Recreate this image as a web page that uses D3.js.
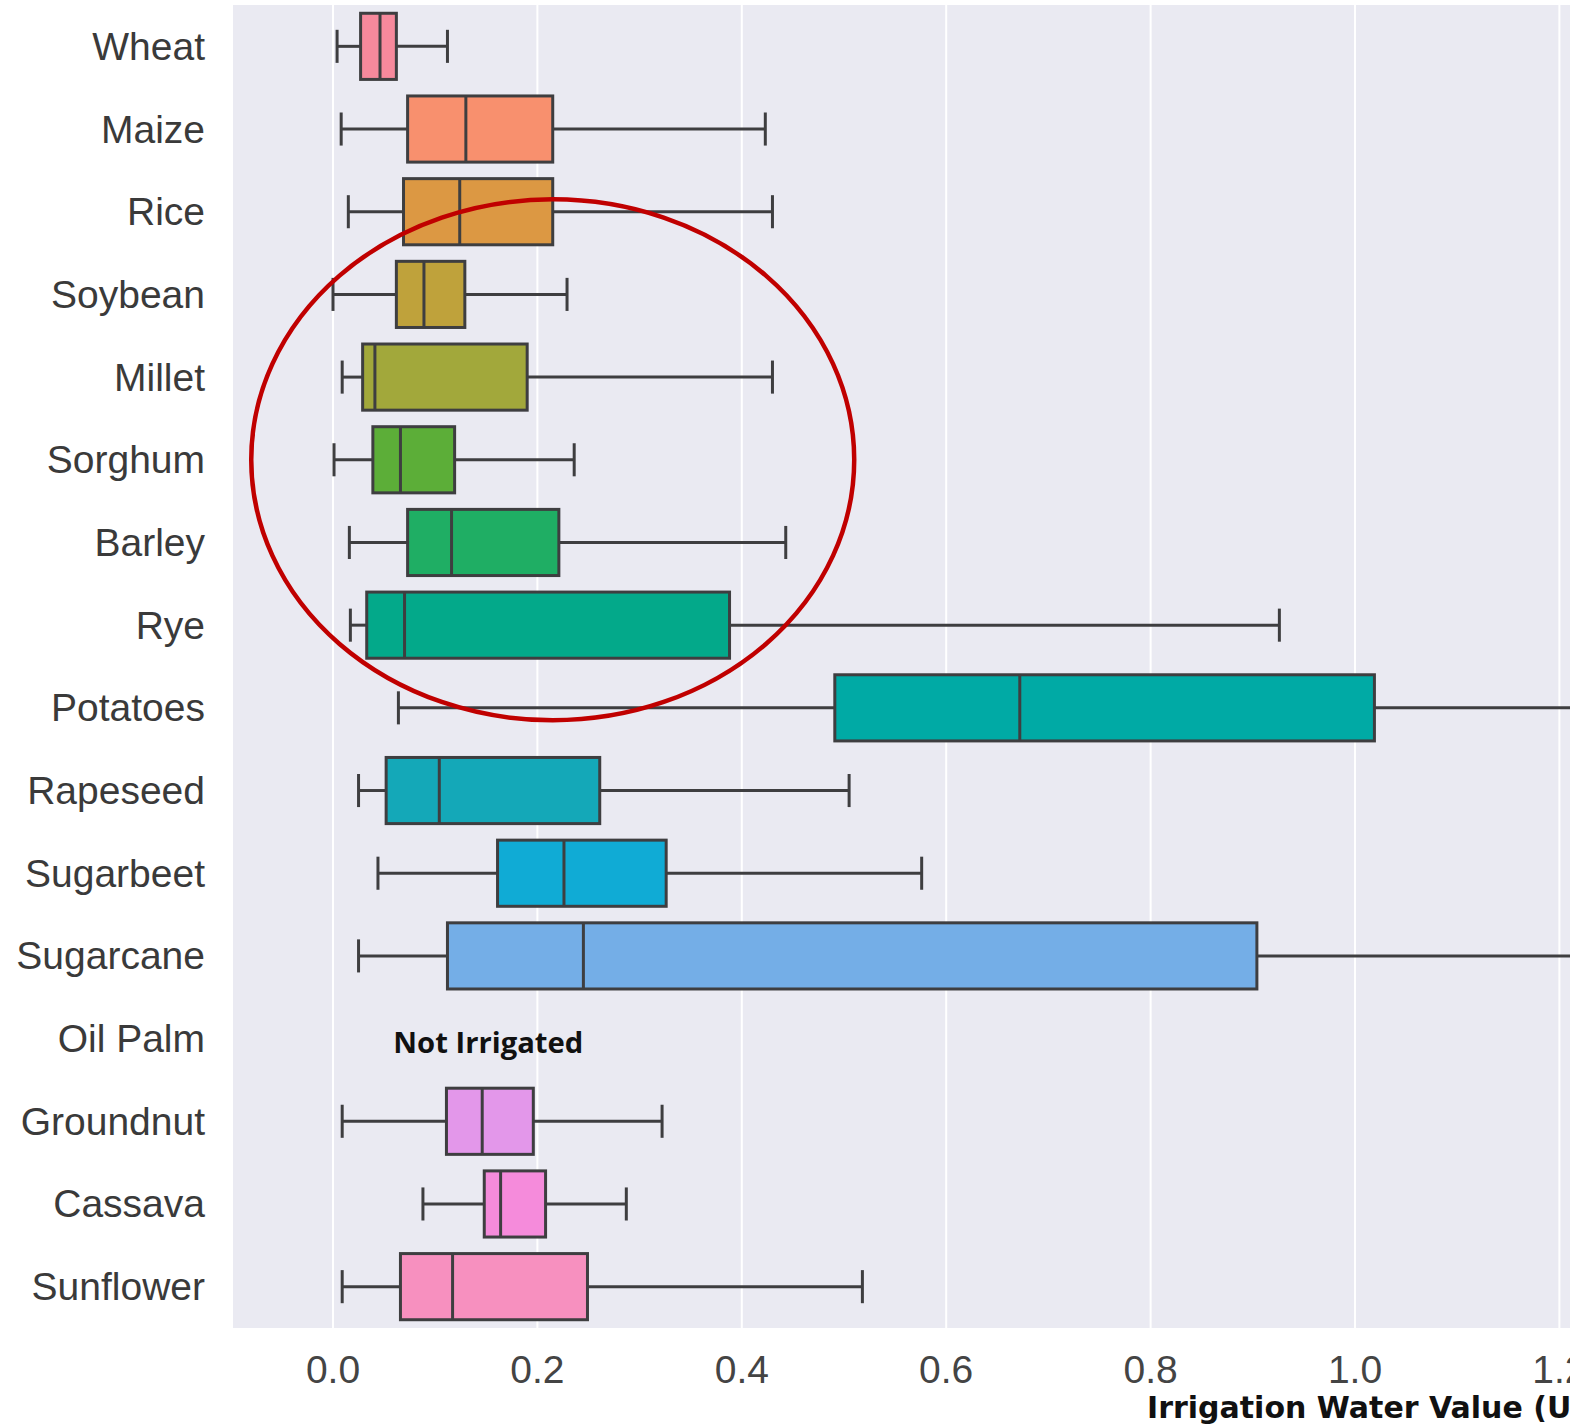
<!DOCTYPE html>
<html>
<head>
<meta charset="utf-8">
<script src="https://cdn.jsdelivr.net/npm/d3@7"></script>
<style>
  html, body { margin: 0; padding: 0; background: #ffffff; overflow: hidden; }
  svg { display: block; }
</style>
</head>
<body>
<script>
// ---- data ----
const categories = ["Wheat","Maize","Rice","Soybean","Millet","Sorghum","Barley","Rye",
  "Potatoes","Rapeseed","Sugarbeet","Sugarcane","Oil Palm","Groundnut","Cassava","Sunflower"];
const whiskerLow  = [0.004,0.008,0.015,0.000,0.009,0.001,0.016,0.017,0.064,0.025,0.044,0.025,null,0.009,0.088,0.009];
const q1          = [0.027,0.073,0.069,0.062,0.029,0.039,0.073,0.033,0.491,0.052,0.161,0.112,null,0.111,0.148,0.066];
const medians     = [0.046,0.130,0.124,0.089,0.041,0.066,0.116,0.070,0.672,0.104,0.226,0.245,null,0.146,0.164,0.117];
const q3          = [0.062,0.215,0.215,0.129,0.190,0.119,0.221,0.388,1.019,0.261,0.326,0.904,null,0.196,0.208,0.249];
const whiskerHigh = [0.112,0.423,0.430,0.229,0.430,0.236,0.443,0.926,1.450,0.505,0.576,1.700,null,0.322,0.287,0.518];
const boxColors   = ["#F6899C","#F8906E","#DC9843","#BFA23B","#A2A83B","#5CAE38","#1FAE64","#03A98A",
  "#00AAA5","#14A8B8","#10ABD5","#74AEE7","#cccccc","#E397EA","#F58BDB","#F790BF"];
const xTicks = [0.0,0.2,0.4,0.6,0.8,1.0,1.2];
const xTickLabels = ["0.0","0.2","0.4","0.6","0.8","1.0","1.2"];
const xLabel = "Irrigation Water Value (USD/m³)";
const noteText = "Not Irrigated";
const noteCategory = "Oil Palm";
const noteValue = 0.059;
// highlight ellipse (in data terms): centre value, centre category, radii
const ellipseCenterValue = 0.215;
const ellipseCenterCategory = "Sorghum";
const ellipseRadiusValue = 0.295;
const ellipseRadiusBands = 3.15;

// ---- layout ----
const W = 1570, H = 1427;
const plotLeft = 233, plotRight = 1620, plotTop = 5, plotBottom = 1328;

const svg = d3.select("body").append("svg").attr("width", W).attr("height", H);

const x = d3.scaleLinear().domain([0, 1]).range([333, 1355]);
const y = d3.scaleBand().domain(categories).range([plotTop, plotBottom]).paddingInner(0).paddingOuter(0);
const bw = y.bandwidth();

svg.append("defs").append("clipPath").attr("id", "plotclip")
  .append("rect").attr("x", plotLeft).attr("y", plotTop)
  .attr("width", plotRight - plotLeft).attr("height", plotBottom - plotTop);

// background
svg.append("rect").attr("x", plotLeft).attr("y", plotTop)
  .attr("width", plotRight - plotLeft).attr("height", plotBottom - plotTop)
  .attr("fill", "#EAEAF2");

// gridlines
svg.append("g").attr("clip-path", "url(#plotclip)")
  .selectAll("line").data(xTicks).join("line")
  .attr("x1", d => x(d)).attr("x2", d => x(d))
  .attr("y1", plotTop).attr("y2", plotBottom)
  .attr("stroke", "#ffffff").attr("stroke-width", 2);

// boxes
const rows = categories.map((c, i) => ({
  c, lo: whiskerLow[i], q1: q1[i], med: medians[i], q3: q3[i], hi: whiskerHigh[i], color: boxColors[i]
})).filter(d => d.med !== null);

const lineColor = "#3e3e40";
const g = svg.append("g").attr("clip-path", "url(#plotclip)");
const boxH = bw * 0.8;
const capH = boxH * 0.5;

const row = g.selectAll("g.row").data(rows).join("g").attr("class", "row")
  .attr("transform", d => `translate(0,${y(d.c) + bw / 2})`);

// whiskers
row.append("line").attr("x1", d => x(d.lo)).attr("x2", d => x(d.q1))
  .attr("y1", 0).attr("y2", 0).attr("stroke", lineColor).attr("stroke-width", 3);
row.append("line").attr("x1", d => x(d.q3)).attr("x2", d => x(d.hi))
  .attr("y1", 0).attr("y2", 0).attr("stroke", lineColor).attr("stroke-width", 3);
// caps
row.append("line").attr("x1", d => x(d.lo)).attr("x2", d => x(d.lo))
  .attr("y1", -capH / 2).attr("y2", capH / 2).attr("stroke", lineColor).attr("stroke-width", 3);
row.append("line").attr("x1", d => x(d.hi)).attr("x2", d => x(d.hi))
  .attr("y1", -capH / 2).attr("y2", capH / 2).attr("stroke", lineColor).attr("stroke-width", 3);
// box
row.append("rect").attr("x", d => x(d.q1)).attr("width", d => x(d.q3) - x(d.q1))
  .attr("y", -boxH / 2).attr("height", boxH)
  .attr("fill", d => d.color).attr("stroke", lineColor).attr("stroke-width", 3);
// median
row.append("line").attr("x1", d => x(d.med)).attr("x2", d => x(d.med))
  .attr("y1", -boxH / 2).attr("y2", boxH / 2).attr("stroke", lineColor).attr("stroke-width", 3);

// category labels
svg.append("g").selectAll("text").data(categories).join("text")
  .attr("x", 205).attr("y", d => y(d) + bw / 2)
  .attr("text-anchor", "end").attr("dominant-baseline", "central")
  .attr("font-family", "'Liberation Sans', Arial, sans-serif")
  .attr("font-size", 39).attr("fill", "#3a3a3a")
  .text(d => d);

// x tick labels
svg.append("g").selectAll("text").data(xTicks).join("text")
  .attr("x", d => x(d)).attr("y", 1383)
  .attr("text-anchor", "middle")
  .attr("font-family", "'Liberation Sans', Arial, sans-serif")
  .attr("font-size", 39).attr("fill", "#444444")
  .text((d, i) => xTickLabels[i]);

// x axis label
svg.append("text").attr("x", 1147).attr("y", 1418)
  .attr("font-family", "'DejaVu Sans', sans-serif")
  .attr("font-weight", "bold").attr("font-size", 30).attr("fill", "#111111")
  .text(xLabel);

// not irrigated note
svg.append("text").attr("x", x(noteValue)).attr("y", y(noteCategory) + bw / 2 + 14)
  .attr("font-family", "'Open Sans', sans-serif").attr("font-weight", "bold")
  .attr("font-size", 28).attr("fill", "#111111")
  .attr("textLength", 190).attr("lengthAdjust", "spacingAndGlyphs")
  .text(noteText);

// highlight ellipse
svg.append("ellipse")
  .attr("cx", x(ellipseCenterValue))
  .attr("cy", y(ellipseCenterCategory) + bw / 2)
  .attr("rx", x(ellipseRadiusValue) - x(0))
  .attr("ry", ellipseRadiusBands * bw)
  .attr("fill", "none").attr("stroke", "#C00000").attr("stroke-width", 4.5);
</script>
</body>
</html>
